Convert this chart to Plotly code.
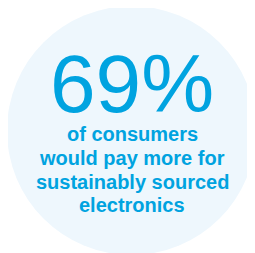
import plotly.graph_objects as go

headline_value = 69
headline_suffix = "%"
subtitle_lines = ["of consumers", "would pay more for", "sustainably sourced", "electronics"]

W, H = 255, 253
OFF = 8  # default page body margin; coordinates below are page pixels
blue = "#00a3e0"
circle_fill = "#eef7fd"

fig = go.Figure()
fig.add_shape(type="circle", xref="x", yref="y", x0=7, x1=256, y0=6, y1=255,
              fillcolor=circle_fill, line=dict(width=0), layer="below")

fig.add_annotation(x=132, y=83, xref="x", yref="y", showarrow=False,
                   text=f"{headline_value}{headline_suffix}",
                   font=dict(family="Liberation Sans, Arial", size=82, color=blue),
                   xanchor="center", yanchor="middle")

line_y = [134, 158, 182, 205]
for t, yy in zip(subtitle_lines, line_y):
    fig.add_annotation(x=132, y=yy, xref="x", yref="y", showarrow=False, text=t,
                       font=dict(family="Liberation Sans, Arial", size=20, color=blue,
                                 weight="bold"),
                       xanchor="center", yanchor="middle")

fig.update_xaxes(range=[OFF, W], visible=False, fixedrange=True)
fig.update_yaxes(range=[H, OFF], visible=False, fixedrange=True)
fig.update_layout(width=W - OFF, height=H - OFF, margin=dict(l=0, r=0, t=0, b=0),
                  paper_bgcolor="white", plot_bgcolor="white", showlegend=False)
fig.write_html("out.html", config={"displayModeBar": False})
